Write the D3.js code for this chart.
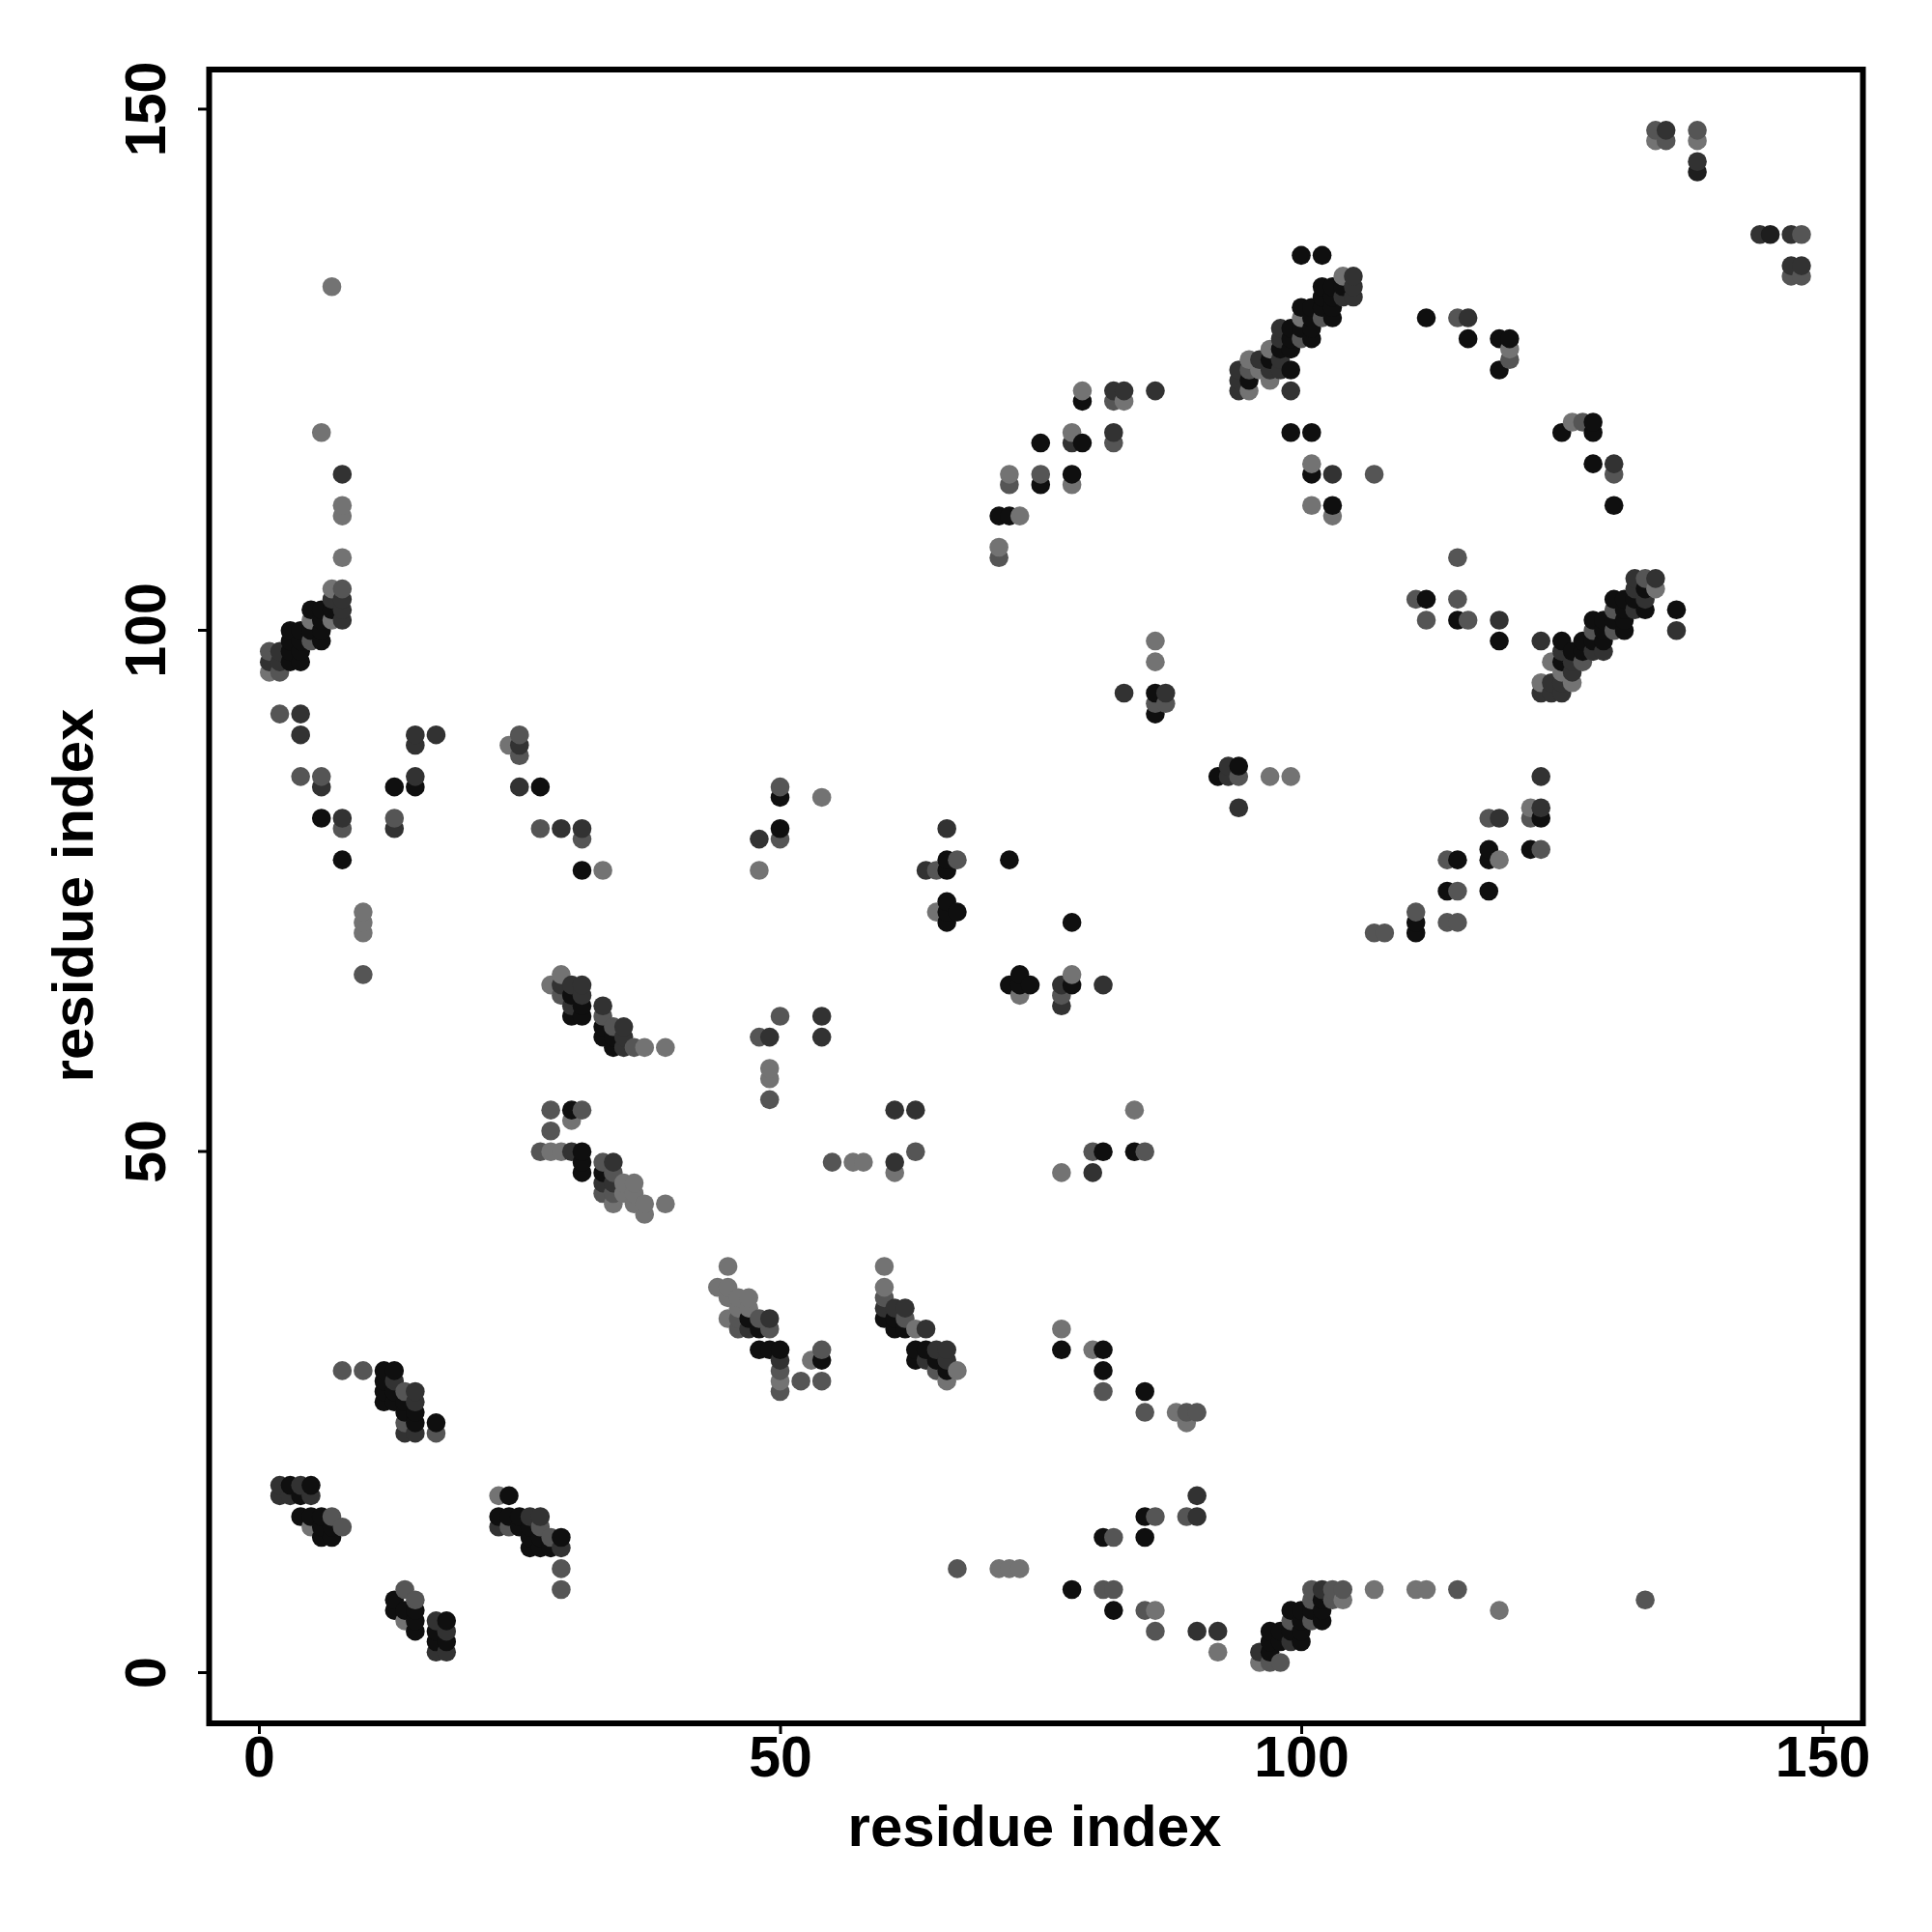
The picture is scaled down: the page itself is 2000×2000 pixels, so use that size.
<!DOCTYPE html>
<html><head><meta charset="utf-8">
<script src="https://cdn.jsdelivr.net/npm/d3@7"></script>
<style>html,body{margin:0;padding:0;background:#fff}svg{display:block}</style>
</head><body><div id="c"></div>
<script>
const tickValues=[0,50,100,150];
const xTitle="residue index", yTitle="residue index";
const blackContacts=[
[100,136],[102,136],[102,133],[103,133],[104,133],[102,132],[103,132],[100,131],[101,131],[102,131],[103,131],[101,130],[103,130],[99,129],[100,129],[101,129],[99,128],[101,128],[98,127],[99,127],[95,124],[99,125],[97,126],
[99,119],[101,119],[101,115],[103,112],[72,111],[71,111],[75,118],[75,114],[78,115],[79,118],[79,122],
[112,130],[116,128],[119,128],[120,128],[119,125],[125,119],[128,120],[128,119],[128,116],[130,112],
[112,103],[115,101],[119,99],
[125,99],[136,102],[133,104],[130,103],[131,103],[132,103],[133,102],[131,102],[128,101],[129,101],[130,101],[131,101],[131,100],[129,100],[127,99],[128,99],[129,99],[126,98],[127,98],[125,97],
[86,94],[86,92],[92,86],[94,87],[123,82],[122,79],[118,79],[118,78],[115,78],[114,75],[118,75],[111,71],[111,72],
[72,78],[66,78],[66,77],[66,74],[66,73],[67,73],[66,72],[78,72],[72,66],[73,67],[73,66],[74,66],[78,66],
[5,102],[6,102],[7,102],[6,101],[6,100],[6,99],[5,100],[3,100],[4,100],[3,99],[4,99],[3,98],[4,98],[3,97],[4,97],
[6,82],[8,78],[13,85],[15,85],[27,85],[31,77],[50,84],[50,81],
[30,65],[31,64],[30,63],[31,63],[33,62],[33,61],[34,61],[34,60],
[30,54],[31,50],[31,49],[31,48],[33,48],
[81,50],[84,50],[47,34],[48,33],[48,31],[49,31],[50,31],[54,30],
[60,34],[61,34],[61,33],[62,33],[63,31],[64,31],[63,30],[65,30],[66,29],
[77,31],[81,31],[81,29],[85,27],
[12,29],[13,29],[12,28],[12,27],[13,27],[12,26],[13,26],[14,26],[14,25],[15,25],[15,24],[17,24],
[3,18],[5,18],[4,17],[4,15],[5,15],[6,15],[6,14],[7,14],[6,13],[7,13],
[24,17],[23,15],[24,15],[25,15],[25,14],[26,14],[26,13],[27,13],[29,13],[26,12],[27,12],[28,12],
[78,8],[82,6],[81,13],[85,13],[85,15],
[97,2],[97,4],[97,3],[98,4],[98,3],[99,6],[100,6],[100,5],[99,4],[100,4],[100,3],[102,7],[101,6],[102,6],[102,5],
[13,7],[13,6],[14,6],[15,6],[15,5],[15,4],[18,5],[17,4],[17,3],[18,3]
];
const darkContacts=[
[105,134],[105,133],[105,132],[104,132],[98,129],[98,128],[96,126],[98,126],[94,125],[97,125],[98,125],[94,124],[94,123],[99,123],
[103,115],[86,123],[82,123],[83,123],[78,118],[82,119],
[116,130],[130,116],[119,101],[123,99],[136,100],[132,105],[134,105],[132,104],[133,103],[132,102],[125,98],[128,98],[129,98],[126,97],[126,96],[124,95],[125,95],[123,94],[124,94],[125,94],
[83,94],[87,94],[93,87],[93,86],[94,83],[123,86],[123,83],[119,82],
[64,77],[66,81],[77,66],[77,64],[81,66],
[8,115],[7,103],[8,103],[8,102],[8,101],[2,98],[1,97],[2,97],
[4,92],[4,90],[6,85],[8,82],[13,81],[15,86],[15,90],[15,89],[17,90],[25,89],[25,85],[29,81],[31,81],
[48,80],[49,61],[54,63],[54,61],
[29,66],[30,66],[31,66],[31,65],[30,64],[33,64],[35,62],[35,61],[35,60],
[30,50],[34,49],[33,47],[34,47],[61,49],[61,54],[63,54],[80,48],
[49,34],[47,33],[50,30],
[60,35],[61,35],[62,35],[64,33],[65,31],[66,31],[64,30],[66,30],
[13,28],[15,27],[15,26],[14,23],[15,23],
[2,18],[4,18],[2,17],[3,17],[5,17],
[23,14],[26,15],[27,15],[29,12],
[90,4],[92,4],[90,15],[90,17],
[96,2],[99,3],[102,8],
[17,5],[18,4],[17,2],[18,2]
];
const midContacts=[
[102,130],[100,128],[95,125],[75,115],[71,107],[72,114],[82,122],[82,118],[107,115],
[115,130],[120,126],[127,120],[130,115],[115,107],[111,103],[115,103],[112,101],[116,101],
[133,105],[130,102],[130,100],[128,100],[127,97],
[86,93],[87,93],[94,86],[122,82],[118,82],[123,79],[114,78],[115,75],[114,72],[115,72],[111,73],[107,71],[108,71],
[65,77],[67,78],[77,65],
[8,104],[5,99],[1,98],[2,96],
[2,92],[4,86],[6,86],[8,81],[13,82],[25,90],[25,88],[27,81],[31,80],
[50,85],[50,80],[48,61],[50,63],[49,55],[10,67],
[29,65],[33,63],[34,62],[36,60],
[28,54],[31,54],[28,52],[27,50],[33,49],[34,48],[33,46],[34,46],
[55,49],[63,50],[80,50],[85,50],
[48,34],[46,34],[46,33],[49,33],[50,29],[50,27],[54,31],[52,28],[54,28],
[60,36],[62,34],[65,29],
[8,29],[10,29],[14,27],[14,24],[17,23],
[7,15],[8,14],[27,14],[24,14],[28,13],[29,10],[29,8],
[67,10],[81,8],[82,8],[85,6],[86,4],[82,13],[86,15],[89,15],[81,27],[85,25],[89,25],[90,25],
[97,1],[98,1],[99,5],[101,8],[103,8],[104,8],[101,7],[103,7],[101,5],[115,8],[133,7],
[14,8],[15,7]
];
const lightContacts=[
[104,134],[100,130],[97,127],[95,126],[96,125],[97,124],[95,123],
[101,116],[101,112],[103,111],[73,111],[71,108],[72,115],[78,114],[78,119],[79,123],[83,122],
[120,127],[126,120],[124,97],[125,96],[123,95],[126,95],[134,104],
[86,99],[86,97],[97,86],[99,86],[122,83],[119,78],[65,73],[73,65],[78,67],
[7,133],[6,119],[8,112],[8,111],[8,107],[7,104],[7,101],[5,101],[1,96],
[10,73],[10,72],[10,71],[24,89],[33,77],[54,84],[48,77],[49,58],[49,57],
[29,67],[28,66],[37,60],[39,60],
[30,53],[28,50],[29,50],[35,47],[36,47],[35,46],[36,46],[34,45],[36,45],[37,45],[39,45],[37,44],
[57,49],[58,49],[61,48],[77,48],[84,54],
[45,39],[44,37],[45,37],[45,36],[46,36],[47,36],[46,35],[47,35],[45,34],[50,28],[53,30],
[60,39],[60,37],[63,33],[67,29],[66,28],
[77,33],[80,31],[88,25],[89,24],
[5,14],[23,17],
[71,10],[72,10],[73,10],[86,6],[92,2],
[96,1],[104,7],[107,8],[111,8],[112,8],[119,6],[14,5]
];
const upperContacts=[[134,148],[135,148],[134,147],[135,147],[138,148],[138,147],[144,138],[145,138],[147,138],[148,138],[147,135],[148,135],[147,134],[148,134],[138,145],[138,144]];
const upperShades=[85,50,115,85,85,115,50,30,50,85,50,50,85,85,50,30];

const shade={black:15,dark:50,mid:85,light:115};
const gray=d3.scaleLinear().domain([0,255]).range(["#000","#fff"]);

const tag=(arr,g)=>arr.map(d=>({i:d[0],j:d[1],g}));
const seen=new Map();
[...tag(lightContacts,shade.light),...tag(midContacts,shade.mid),...tag(darkContacts,shade.dark),...tag(blackContacts,shade.black),
 ...upperContacts.map((d,k)=>({i:d[0],j:d[1],g:upperShades[k]}))]
 .forEach(d=>seen.set(d.i+"_"+d.j,d));
const points=[...seen.values()].sort((a,b)=>d3.ascending(a.i,b.i)||d3.ascending(a.j,b.j));

const svg=d3.select("#c").append("svg").attr("width",2000).attr("height",2000);
const x=d3.scaleLinear().domain([-4.82,153.75]).range([216,1927]);
const y=d3.scaleLinear().domain([-4.91,153.75]).range([1784,72]);

svg.append("g").attr("transform","translate(0,0.8)").selectAll("circle").data(points).join("circle")
 .attr("cx",d=>x(d.i)).attr("cy",d=>y(d.j)).attr("r",9.8).attr("fill",d=>gray(d.g));

const font="'Liberation Sans',Arial,sans-serif";
const ax=svg.append("g").attr("transform","translate(0,1784)").call(d3.axisBottom(x).tickValues(tickValues).tickSize(11).tickPadding(10));
const ay=svg.append("g").attr("transform","translate(216,0)").call(d3.axisLeft(y).tickValues(tickValues).tickSize(11));
[ax,ay].forEach(a=>{a.select(".domain").remove();
 a.selectAll(".tick line").attr("stroke","#000").attr("stroke-width",3);
 a.selectAll(".tick text").attr("font-family",font).attr("font-weight","bold").attr("font-size",59).attr("fill","#000");});
ax.selectAll(".tick text").attr("dy",null).attr("text-anchor","middle").attr("y",55);
ay.selectAll(".tick text").attr("dy",null).attr("text-anchor","middle")
 .attr("transform","translate(-45,0) rotate(-90)").attr("x",0).attr("y",0);

svg.append("rect").attr("x",216.5).attr("y",72).attr("width",1712).attr("height",1712)
 .attr("fill","none").attr("stroke","#000").attr("stroke-width",6);

svg.append("text").attr("x",1071).attr("y",1911).attr("text-anchor","middle")
 .attr("font-family",font).attr("font-weight","bold").attr("font-size",60).text(xTitle);
svg.append("text").attr("transform","translate(96,927) rotate(-90)").attr("text-anchor","middle")
 .attr("font-family",font).attr("font-weight","bold").attr("font-size",60).text(yTitle);
</script></body></html>
